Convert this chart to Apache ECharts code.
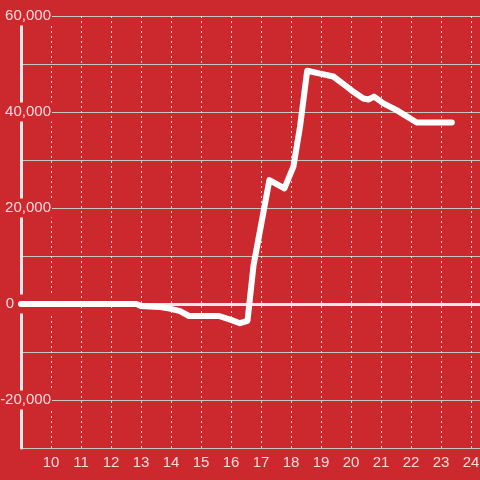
<!DOCTYPE html>
<html><head><meta charset="utf-8">
<script src="https://cdn.jsdelivr.net/npm/echarts@6/dist/echarts.min.js"></script>
<style>html,body{margin:0;padding:0;background:#cc292e}#c{width:480px;height:480px}</style>
</head><body><div id="c"></div>
<script>
const xs = [9, 12.85, 13, 13.6, 14, 14.3, 14.6, 15, 15.6, 16, 16.3, 16.55, 16.75, 17.28, 17.78, 18.08, 18.3, 18.54, 18.97, 19.41, 19.86, 20.08, 20.41, 20.58, 20.77, 21.08, 21.52, 22.19, 23.36];
const ys = [0, 0, -400, -600, -1000, -1500, -2500, -2500, -2500, -3300, -4000, -3500, 8000, 25800, 24100, 28600, 36900, 48600, 48000, 47400, 45300, 44200, 42800, 42600, 43200, 41800, 40400, 37800, 37800];
const xTicks = [10,11,12,13,14,15,16,17,18,19,20,21,22,23,24];
const yTickLabels = [60000, 40000, 20000, 0, -20000];

const BG = '#cc292e';
const TXT = 'rgba(255,238,238,0.9)';
const chart = echarts.init(document.getElementById('c'));
chart.setOption({
  backgroundColor: BG,
  animation: false,
  grid: {left: 21, right: 0, top: 16, bottom: 32, containLabel: false, outerBoundsMode: 'none'},
  xAxis: {
    type: 'value', min: 9, max: 24.3, interval: 1,
    axisLine: {show: false}, axisTick: {show: false},
    axisLabel: {color: TXT, fontSize: 15, fontFamily: 'Liberation Sans, Arial', margin: 7,
      showMaxLabel: false,
      formatter: v => xTicks.includes(v) ? String(v) : ''},
    splitLine: {show: true, lineStyle: {color: 'rgba(255,240,240,0.9)', width: 1, type: [2, 3]}}
  },
  yAxis: {
    type: 'value', min: -30000, max: 60000, interval: 10000,
    axisLine: {show: true, onZero: false, lineStyle: {color: '#f2e6e6', width: 3}},
    axisTick: {show: false},
    axisLabel: {color: TXT, fontSize: 15, fontFamily: 'Liberation Sans, Arial', align: 'right', margin: -31,
      backgroundColor: BG, padding: [2, 1, 2, 2],
      formatter: v => {
        if (!yTickLabels.includes(v)) return '';
        if (v === 0) return '{z|0}';
        return v.toLocaleString('en-US');
      },
      rich: {z: {color: TXT, fontSize: 15, fontFamily: 'Liberation Sans, Arial', padding: [0, 37, 0, 0]}}
    },
    splitLine: {show: true, lineStyle: {color: '#c9c3c3', width: 1}}
  },
  series: [{
    type: 'line', symbol: 'none', z: 5,
    data: xs.map((x, i) => [x, ys[i]]),
    lineStyle: {color: '#ffffff', width: 6, join: 'round', cap: 'round'},
    markLine: {
      silent: true, symbol: 'none', label: {show: false},
      lineStyle: {color: '#f2e6e6', width: 3, type: 'solid'},
      data: [{yAxis: 0}]
    }
  }]
});
</script></body></html>
